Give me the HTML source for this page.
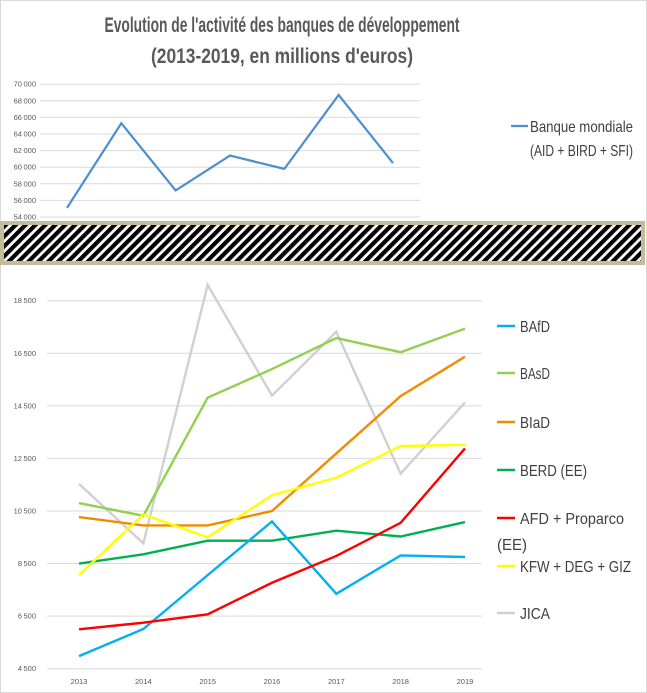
<!DOCTYPE html>
<html><head><meta charset="utf-8"><style>
html,body{margin:0;padding:0;background:#fff;}
svg{display:block;font-family:"Liberation Sans",sans-serif;}
</style></head><body>
<svg id="c" width="647" height="693" viewBox="0 0 647 693">
<defs>
<pattern id="hatch" patternUnits="userSpaceOnUse" width="7" height="7" patternTransform="rotate(45)">
<rect width="7" height="7" fill="#fff"/><rect width="4.2" height="7" fill="#000"/>
</pattern>
</defs>
<rect x="0.5" y="0.5" width="646" height="692" fill="#fff" stroke="#d9d9d9"/>
<text x="282" y="32" text-anchor="middle" font-size="21" font-weight="bold" fill="#595959" textLength="355" lengthAdjust="spacingAndGlyphs">Evolution de l'activité des banques de développement</text>
<text x="282" y="63" text-anchor="middle" font-size="21" font-weight="bold" fill="#595959" textLength="262" lengthAdjust="spacingAndGlyphs">(2013-2019, en millions d'euros)</text>
<g id="topChart"></g>
<g id="botChart"></g>
<rect x="2" y="223" width="641" height="40" fill="url(#hatch)" stroke="#c4bc98" stroke-width="4"/>
</svg>
<script>
const years = ["2013","2014","2015","2016","2017","2018","2019"];
const wbValues = [55100, 65300, 57200, 61400, 59800, 68700, 60500];
const topTicks = [54000,56000,58000,60000,62000,64000,66000,68000,70000];
const botTicks = [4500,6500,8500,10500,12500,14500,16500,18500];
const bafd = [4980, 6010, 8060, 10100, 7350, 8810, 8750];
const basd = [10800, 10320, 14810, 15900, 17080, 16540, 17440];
const biad = [10270, 9950, 9950, 10500, 12690, 14870, 16370];
const berd = [8500, 8850, 9370, 9370, 9750, 9530, 10080];
const afd = [6000, 6250, 6570, 7770, 8790, 10050, 12880];
const kfw = [8060, 10370, 9500, 11100, 11770, 12970, 13020];
const jica = [11530, 9270, 19100, 14890, 17320, 11920, 14630];

const NS="http://www.w3.org/2000/svg";
function mk(parent,tag,attrs){const e=document.createElementNS(NS,tag);for(const k in attrs)e.setAttribute(k,attrs[k]);parent.appendChild(e);return e;}
function fmt(v){const s=String(v);return s.length>3?s.slice(0,-3)+"\u2009"+s.slice(-3):s;}

const topG=document.getElementById('topChart');
const tx=i=>67+i*54.33;
const ty=v=>217-(v-54000)/2000*16.6;
topTicks.forEach(t=>{
  const l=mk(topG,'line',{x1:40,x2:420,y1:ty(t),y2:ty(t),stroke:'#d9d9d9','stroke-width':1});
  
  
  const tt=mk(topG,'text',{x:36,y:ty(t)+2.5,'text-anchor':'end','font-size':7.5,fill:'#595959'});
  tt.textContent=fmt(t);
  
  
});
const wl=mk(topG,'polyline',{points:wbValues.map((v,i)=>tx(i)+','+ty(v)).join(' '),fill:'none',stroke:'#4a8fd0','stroke-width':2.2});


const ll=mk(topG,'line',{x1:511,x2:528,y1:126,y2:126,stroke:'#4a8fd0','stroke-width':2.2});


const lt1=mk(topG,'text',{x:530,y:132,'font-size':16,fill:'#404040',textLength:103,lengthAdjust:'spacingAndGlyphs'});
lt1.textContent='Banque mondiale';


const lt2=mk(topG,'text',{x:530,y:156,'font-size':16,fill:'#404040',textLength:103,lengthAdjust:'spacingAndGlyphs'});
lt2.textContent='(AID + BIRD + SFI)';



const botG=document.getElementById('botChart');
const bx=i=>79+i*64.33;
const by=v=>668.7-(v-4500)/2000*52.57;
botTicks.forEach(t=>{
  const l=mk(botG,'line',{x1:47,x2:482,y1:by(t),y2:by(t),stroke:'#d9d9d9','stroke-width':1});
  
  
  const tt=mk(botG,'text',{x:36,y:by(t)+2.5,'text-anchor':'end','font-size':7.5,fill:'#595959'});
  tt.textContent=fmt(t);
  
  
});
years.forEach((y,i)=>{
  const tt=mk(botG,'text',{x:bx(i),y:684,'text-anchor':'middle','font-size':7.5,fill:'#595959'});
  tt.textContent=y;
  
  
});
const colors={bafd:'#00b0f0',basd:'#92d050',biad:'#f08c00',berd:'#00b050',afd:'#ff0000',kfw:'#ffff00',jica:'#d0d0d0'};
const order=[['jica',jica],['basd',basd],['biad',biad],['berd',berd],['bafd',bafd],['kfw',kfw],['afd',afd]];
order.forEach(([k,arr])=>{
  const p=mk(botG,'polyline',{points:arr.map((v,i)=>bx(i)+','+by(v)).join(' '),fill:'none',stroke:colors[k],'stroke-width':2.4});
  
  
});
const legend=[['bafd','BAfD',326],['basd','BAsD',373],['biad','BIaD',422],['berd','BERD (EE)',470],['afd','AFD + Proparco',518],['kfw','KFW + DEG + GIZ',566],['jica','JICA',613]];
legend.forEach(([k,label,y])=>{
  const s=mk(botG,'line',{x1:497,x2:515,y1:y,y2:y,stroke:colors[k],'stroke-width':2.6});
  
  
  const t=mk(botG,'text',{x:520,y:y+6,'font-size':16,fill:'#404040'});
  t.setAttribute('textLength',Math.round(label.length*7.4));
  t.setAttribute('lengthAdjust','spacingAndGlyphs');
  t.textContent=label;
  
  
});
const ee=mk(botG,'text',{x:497,y:550,'font-size':16,fill:'#404040',textLength:30,lengthAdjust:'spacingAndGlyphs'});
ee.textContent='(EE)';


</script>
</body></html>
